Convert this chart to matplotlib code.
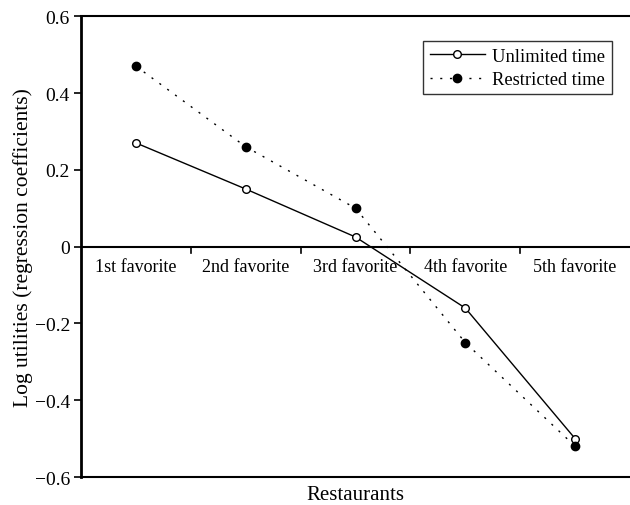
import matplotlib.pyplot as plt
import numpy as np

plt.rcParams['font.family'] = ['Liberation Serif', 'DejaVu Serif']

# Data
categories = ['1st favorite', '2nd favorite', '3rd favorite', '4th favorite', '5th favorite']
unlimited = [0.27, 0.15, 0.025, -0.16, -0.50]
restricted = [0.47, 0.26, 0.10, -0.25, -0.52]
y_ticks = [-0.6, -0.4, -0.2, 0, 0.2, 0.4, 0.6]
y_tick_labels = ['\u22120.6', '\u22120.4', '\u22120.2', '0', '0.2', '0.4', '0.6']

x = np.arange(len(categories))

fig = plt.figure(figsize=(6.3, 5.06), dpi=100)
ax = fig.add_axes([0.1286, 0.0553, 0.8714, 0.9107])

ax.plot(x, unlimited, color='black', linestyle='-', linewidth=1.0,
        marker='o', markersize=5.5, markerfacecolor='white',
        markeredgecolor='black', markeredgewidth=1.0, label='Unlimited time')
ax.plot(x, restricted, color='black', linestyle=(0, (1.5, 5.5)), linewidth=1.0,
        marker='o', markersize=6, markerfacecolor='black',
        markeredgecolor='black', label='Restricted time')

ax.set_xlim(-0.5, len(categories) - 0.5)
ax.set_ylim(-0.6, 0.6)

# Frame: left, top and bottom lines, no right line
ax.spines['right'].set_visible(False)
ax.spines['left'].set_linewidth(2.0)
ax.spines['top'].set_linewidth(1.5)
ax.spines['bottom'].set_linewidth(1.5)

# Zero line with category boundary ticks
ax.axhline(0, color='black', linewidth=1.5, zorder=1)
for b in np.arange(0.5, len(categories) - 0.5, 1):
    ax.plot([b, b], [0, -0.016], color='black', linewidth=1.2, zorder=1)
for i, c in enumerate(categories):
    ax.text(i, -0.053, c, ha='center', va='center', fontsize=13)

ax.set_xticks([])
ax.set_yticks(y_ticks)
ax.set_yticklabels(y_tick_labels, fontsize=14)
ax.tick_params(axis='y', direction='out', length=5, width=1.2, pad=3)

ax.set_ylabel('Log utilities (regression coefficients)', fontsize=15.5, labelpad=1)
ax.text(0.5, -0.039, 'Restaurants', transform=ax.transAxes,
        ha='center', va='center', fontsize=15)

leg = ax.legend(loc='upper right', bbox_to_anchor=(0.967, 0.946), fontsize=13.3,
                frameon=True, fancybox=False, edgecolor='black',
                handlelength=3.0, borderpad=0.35, labelspacing=0.35,
                handletextpad=0.4, borderaxespad=0)
leg.get_frame().set_linewidth(1.0)

plt.savefig('out.png', dpi=100)
